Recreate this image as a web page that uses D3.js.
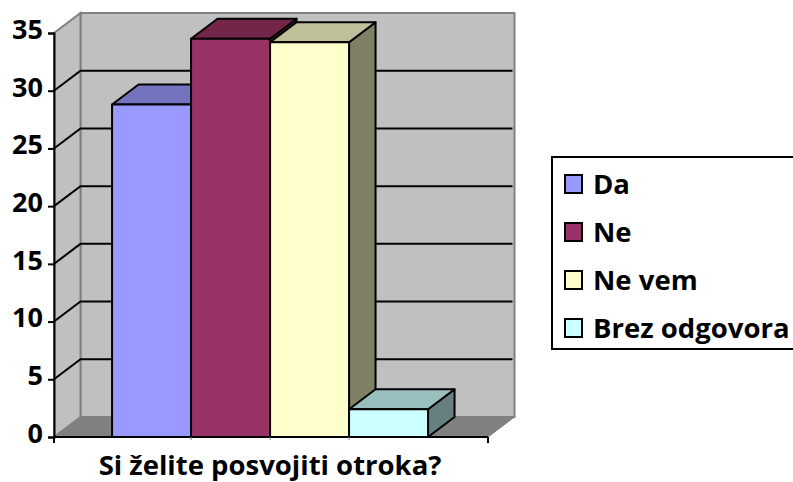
<!DOCTYPE html>
<html>
<head>
<meta charset="utf-8">
<script src="https://cdn.jsdelivr.net/npm/d3@7"></script>
<style>
  body { margin: 0; background: #fff; }
  svg { display: block; }
  text { font-family: "Open Sans", sans-serif; font-weight: 700; fill: #000; }
</style>
</head>
<body>
<script>
const categories = ['Da', 'Ne', 'Ne vem', 'Brez odgovora'];
const values = [28.8, 34.5, 34.2, 2.4];
const colors = ['#9999ff', '#993366', '#ffffcc', '#ccffff'];
const tops = ['#7373bf', '#732649', '#bfbf99', '#99bfbf'];
const sides = ['#4d4d80', '#4d1a33', '#808066', '#668080'];
const yTicks = [0, 5, 10, 15, 20, 25, 30, 35];
const xTitle = 'Si želite posvojiti otroka?';

// oblique offset of the 3d box
const dx = 26.5, dy = -20;

const svg = d3.select('body').append('svg')
  .attr('width', 793)
  .attr('height', 482);

const x = d3.scaleBand().domain(categories).range([54, 488]).paddingInner(0).paddingOuter(0.747).align(0.492);
const y = d3.scaleLinear().domain([0, 35]).range([437, 33]);

const poly = pts => pts.map(p => p.join(',')).join(' ');
const x0 = x.range()[0], x1 = x.range()[1];

// back wall
svg.append('polygon')
  .attr('points', poly([[x0 + dx, y(35) + dy], [x1 + dx, y(35) + dy], [x1 + dx, y(0) + dy], [x0 + dx, y(0) + dy]]))
  .attr('fill', '#c0c0c0')
  .attr('stroke', '#808080')
  .attr('stroke-width', 2);

// side wall
svg.append('polygon')
  .attr('points', poly([[x0, y(35)], [x0 + dx, y(35) + dy], [x0 + dx, y(0) + dy], [x0, y(0)]]))
  .attr('fill', '#c0c0c0')
  .attr('stroke', '#808080')
  .attr('stroke-width', 2);

// floor
svg.append('polygon')
  .attr('points', poly([[x0, y(0)], [x0 + dx, y(0) + dy], [x1 + dx, y(0) + dy], [x1, y(0)]]))
  .attr('fill', '#808080')
  .attr('stroke', '#808080')
  .attr('stroke-width', 1);

// gridlines
const grid = yTicks.filter(d => d > 0 && d < 35);
svg.selectAll('.grid')
  .data(grid)
  .enter()
  .append('polyline')
  .attr('class', 'grid')
  .attr('fill', 'none')
  .attr('stroke', '#000')
  .attr('stroke-width', 2)
  .attr('points', d => poly([[x0, y(d)], [x0 + dx, y(d) + dy], [x1 + dx - 2, y(d) + dy]]));

// bars
const bars = svg.selectAll('.bar')
  .data(categories)
  .enter()
  .append('g')
  .attr('class', 'bar')
  .attr('stroke', '#000')
  .attr('stroke-width', 2)
  .attr('stroke-linejoin', 'round');

bars.append('polygon')
  .attr('fill', (d, i) => sides[i])
  .attr('points', (d, i) => {
    const r = x(d) + x.bandwidth();
    return poly([[r, y(values[i])], [r + dx, y(values[i]) + dy], [r + dx, y(0) + dy], [r, y(0)]]);
  });

bars.append('polygon')
  .attr('fill', (d, i) => tops[i])
  .attr('points', (d, i) => {
    const l = x(d), r = l + x.bandwidth(), t = y(values[i]);
    return poly([[l, t], [l + dx, t + dy], [r + dx, t + dy], [r, t]]);
  });

bars.append('rect')
  .attr('fill', (d, i) => colors[i])
  .attr('x', d => x(d))
  .attr('width', x.bandwidth())
  .attr('y', (d, i) => y(values[i]))
  .attr('height', (d, i) => y(0) - y(values[i]));

// y axis
const yAxis = svg.append('g')
  .attr('transform', `translate(${x0},0)`)
  .call(d3.axisLeft(y).tickValues(yTicks).tickSize(6).tickPadding(5));
yAxis.select('.domain').attr('stroke', '#000').attr('stroke-width', 2);
yAxis.selectAll('line').attr('stroke', '#000').attr('stroke-width', 2);
yAxis.selectAll('text')
  .style('font-family', '"Open Sans", sans-serif')
  .style('font-weight', 700)
  .style('font-size', '27px')
  .attr('dy', '0.2em');

// x axis line and ticks
svg.append('line')
  .attr('x1', x0).attr('x2', x1)
  .attr('y1', y(0)).attr('y2', y(0))
  .attr('stroke', '#000')
  .attr('stroke-width', 2);
svg.selectAll('.xtick')
  .data([x0, x1])
  .enter()
  .append('line')
  .attr('class', 'xtick')
  .attr('x1', d => d).attr('x2', d => d)
  .attr('y1', y(0)).attr('y2', y(0) + 6)
  .attr('stroke', '#000')
  .attr('stroke-width', 2);
// short ticks at the bar edges
svg.selectAll('.xminor')
  .data(categories.slice(1))
  .enter()
  .append('line')
  .attr('class', 'xminor')
  .attr('x1', d => x(d)).attr('x2', d => x(d))
  .attr('y1', y(0)).attr('y2', y(0) + 3)
  .attr('stroke', '#808080')
  .attr('stroke-width', 1);

svg.append('text')
  .attr('x', 270)
  .attr('y', 475)
  .attr('text-anchor', 'middle')
  .style('font-size', '27.5px')
  .text(xTitle);

// legend
const legend = svg.append('g');
legend.append('rect')
  .attr('x', 552).attr('y', 157)
  .attr('width', 260).attr('height', 192)
  .attr('fill', '#fff')
  .attr('stroke', '#000')
  .attr('stroke-width', 2);

const legY = d3.scalePoint().domain(categories).range([184, 328]);
const items = legend.selectAll('.item')
  .data(categories)
  .enter()
  .append('g')
  .attr('class', 'item')
  .attr('transform', d => `translate(0,${legY(d)})`);
items.append('rect')
  .attr('x', 565).attr('y', -9)
  .attr('width', 17).attr('height', 18)
  .attr('fill', (d, i) => colors[i])
  .attr('stroke', '#000')
  .attr('stroke-width', 2);
items.append('text')
  .attr('x', 593)
  .attr('y', 10)
  .style('font-size', '27.5px')
  .text(d => d);
</script>
</body>
</html>
